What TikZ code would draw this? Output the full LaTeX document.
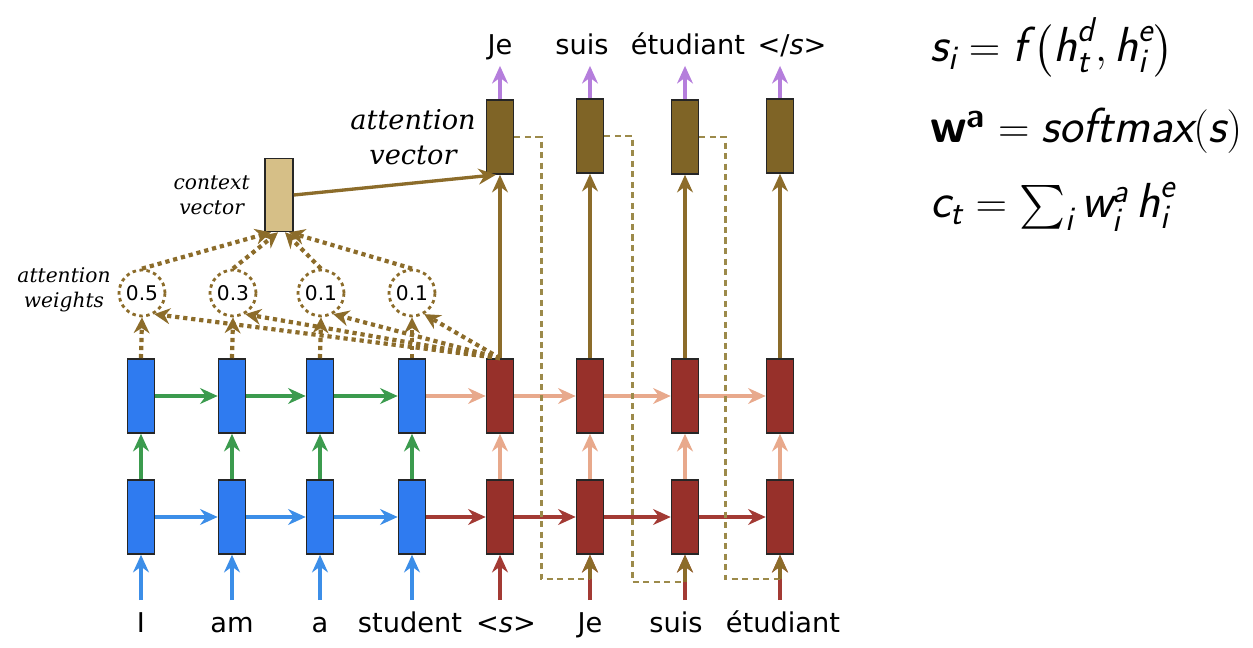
\documentclass[tikz,border=0pt]{standalone}
\usepackage{amsmath}
\usepackage{fontspec}
\usetikzlibrary{arrows.meta,calc}
\newfontfamily\wordfont{DejaVu Sans}
\newfontfamily\notefont{DejaVu Serif}
\newcommand{\sv}[1]{\text{\sffamily\itshape #1}}
\newcommand{\svb}[1]{\text{\sffamily\bfseries #1}}
\definecolor{encblue}{HTML}{2F7BF0}
\definecolor{inblue}{HTML}{3C8EE8}
\definecolor{encgreen}{HTML}{3B9B4E}
\definecolor{decred}{HTML}{97302A}
\definecolor{redarrow}{HTML}{A33A34}
\definecolor{salmon}{HTML}{E8A98C}
\definecolor{attbrown}{HTML}{7F6426}
\definecolor{brownarrow}{HTML}{8C6C2A}
\definecolor{ctxtan}{HTML}{D6BF87}
\definecolor{lavender}{HTML}{B57EDC}
\definecolor{feedbrown}{HTML}{9C8A4A}
\tikzset{
  cell/.style={draw=black!85, line width=0.9pt, minimum width=0.54cm, minimum height=1.48cm, inner sep=0pt},
  enccell/.style={cell, fill=encblue},
  deccell/.style={cell, fill=decred},
  attcell/.style={cell, fill=attbrown},
  ctxcell/.style={cell, fill=ctxtan, minimum width=0.56cm, minimum height=1.46cm},
  link/.style={line width=2.2pt, -{Stealth[length=10pt,width=9pt]}},
  weight/.style={circle, draw=brownarrow, line width=1.6pt, dash pattern=on 2pt off 2pt,
    minimum size=0.92cm, inner sep=0pt, font=\wordfont\fontsize{11.5}{13}\selectfont},
  attline/.style={brownarrow, line width=2.4pt, dash pattern=on 2.4pt off 2.2pt, -{Stealth[length=9pt,width=9pt]}},
  feedline/.style={feedbrown, line width=1.5pt, dash pattern=on 3.5pt off 2.5pt},
  word/.style={font=\wordfont\fontsize{15.5}{18}\selectfont, inner sep=0pt, anchor=base, text height=14pt, text depth=3pt},
  note/.style={font=\notefont\itshape, align=center, inner sep=0pt},
  eq/.style={font=\fontsize{28}{32}\selectfont, anchor=base west, inner sep=0pt}
}
\begin{document}
\begin{tikzpicture}[x=0.02cm, y=-0.02cm]
  \useasboundingbox (0,0) rectangle (1253,648);

  \node[enccell] (e1b) at (141,517) {};
  \node[enccell] (e2b) at (232,517) {};
  \node[enccell] (e3b) at (320,517) {};
  \node[enccell] (e4b) at (412,517) {};
  \node[enccell] (e1t) at (141,396) {};
  \node[enccell] (e2t) at (232,396) {};
  \node[enccell] (e3t) at (320,396) {};
  \node[enccell] (e4t) at (412,396) {};
  \node[deccell] (d1b) at (500,517) {};
  \node[deccell] (d2b) at (590,517) {};
  \node[deccell] (d3b) at (685,517) {};
  \node[deccell] (d4b) at (780,517) {};
  \node[deccell] (d1t) at (500,396) {};
  \node[deccell] (d2t) at (590,396) {};
  \node[deccell] (d3t) at (685,396) {};
  \node[deccell] (d4t) at (780,396) {};
  \node[attcell] (a1) at (500,137) {};
  \node[attcell] (a2) at (590,136) {};
  \node[attcell] (a3) at (685,137) {};
  \node[attcell] (a4) at (780,136) {};
  \node[ctxcell] (ctx) at (279,195) {};

  \node[weight] (w1) at (142,293) {0.5};
  \node[weight] (w2) at (233,293) {0.3};
  \node[weight] (w3) at (321,293) {0.1};
  \node[weight] (w4) at (412,293) {0.1};

  \node[word] (in1) at (141,632) {I};
  \node[word] (in2) at (232,632) {am};
  \node[word] (in3) at (320,632) {a};
  \node[word] (in4) at (410,632) {student};
  \node[word] (in5) at (506,632) {<\textit{s}>};
  \node[word] (in6) at (590,632) {Je};
  \node[word] (in7) at (676,632) {suis};
  \node[word] (in8) at (783,632) {étudiant};
  \node[word] (out1) at (500,55) {Je};
  \node[word] (out2) at (582,55) {suis};
  \node[word] (out3) at (688,55) {étudiant};
  \node[word] (out4) at (792,55) {</\textit{s}>};

  \node[note, font=\notefont\itshape\fontsize{15.5}{20}\selectfont] (attlabel) at (413,137) {attention\\vector};
  \node[note, font=\notefont\itshape\fontsize{11.5}{14}\selectfont, anchor=east] (ctxlabel) at (250,195) {context\\vector};
  \node[note, font=\notefont\itshape\fontsize{11.5}{14.5}\selectfont] (wlabel) at (64,290) {attention\\weights};

  \node[eq] (eq1) at (930,62) {$\sv{s}_{\sv{i}} = \sv{f}\,\bigl(\sv{h}^{\sv{d}}_{\sv{t}}, \sv{h}^{\sv{e}}_{\sv{i}}\bigr)$};
  \node[eq] (eq2) at (930,143) {$\svb{w}^{\svb{a}} = \sv{softmax}(\sv{s})$};
  \node[eq] (eq3) at (930,218) {$\sv{c}_{\sv{t}} = \sum_{\sv{i}} \sv{w}^{\sv{a}}_{\sv{i}}\,\sv{h}^{\sv{e}}_{\sv{i}}$};

  \draw[link, inblue, shorten <=4pt] (in1.north) -- (e1b.south);
  \draw[link, inblue, shorten <=4pt] (in2.north) -- (e2b.south);
  \draw[link, inblue, shorten <=4pt] (in3.north) -- (e3b.south);
  \draw[link, inblue, shorten <=4pt] (in4.north -| e4b.south) -- (e4b.south);
  \draw[link, redarrow, shorten <=4pt] (in5.north -| d1b.south) -- (d1b.south);
  \draw[link, redarrow, shorten <=4pt] (in6.north) -- (d2b.south);
  \draw[link, redarrow, shorten <=4pt] (in7.north -| d3b.south) -- (d3b.south);
  \draw[link, redarrow, shorten <=4pt] (in8.north -| d4b.south) -- (d4b.south);

  \draw[link, inblue] (e1b.east) -- (e2b.west);
  \draw[link, inblue] (e2b.east) -- (e3b.west);
  \draw[link, inblue] (e3b.east) -- (e4b.west);
  \draw[link, redarrow] (e4b.east) -- (d1b.west);
  \draw[link, redarrow] (d1b.east) -- (d2b.west);
  \draw[link, redarrow] (d2b.east) -- (d3b.west);
  \draw[link, redarrow] (d3b.east) -- (d4b.west);
  \draw[link, encgreen] (e1t.east) -- (e2t.west);
  \draw[link, encgreen] (e2t.east) -- (e3t.west);
  \draw[link, encgreen] (e3t.east) -- (e4t.west);
  \draw[link, salmon] (e4t.east) -- (d1t.west);
  \draw[link, salmon] (d1t.east) -- (d2t.west);
  \draw[link, salmon] (d2t.east) -- (d3t.west);
  \draw[link, salmon] (d3t.east) -- (d4t.west);

  \draw[link, encgreen] (e1b.north) -- (e1t.south);
  \draw[link, encgreen] (e2b.north) -- (e2t.south);
  \draw[link, encgreen] (e3b.north) -- (e3t.south);
  \draw[link, encgreen] (e4b.north) -- (e4t.south);
  \draw[link, salmon] (d1b.north) -- (d1t.south);
  \draw[link, salmon] (d2b.north) -- (d2t.south);
  \draw[link, salmon] (d3b.north) -- (d3t.south);
  \draw[link, salmon] (d4b.north) -- (d4t.south);

  \draw[link, brownarrow] (d1t.north) -- (a1.south);
  \draw[link, brownarrow] (d2t.north) -- (a2.south);
  \draw[link, brownarrow] (d3t.north) -- (a3.south);
  \draw[link, brownarrow] (d4t.north) -- (a4.south);
  \draw[link, brownarrow, line width=1.9pt] (ctx.east) -- ($(a1.south)+(-4,0)$);
  \draw[link, lavender, shorten >=3pt] (a1.north) -- (out1.south);
  \draw[link, lavender, shorten >=3pt] (a2.north) -- (out2.south -| a2.north);
  \draw[link, lavender, shorten >=3pt] (a3.north) -- (out3.south -| a3.north);
  \draw[link, lavender, shorten >=3pt] (a4.north) -- (out4.south -| a4.north);

  \draw[attline] (e1t.north) -- (w1.south);
  \draw[attline] (e2t.north) -- (w2.south);
  \draw[attline] (e3t.north) -- (w3.south);
  \draw[attline] (e4t.north) -- (w4.south);
  \draw[attline] (d1t.north) -- (w1.-60);
  \draw[attline] (d1t.north) -- (w2.-60);
  \draw[attline] (d1t.north) -- (w3.-60);
  \draw[attline] (d1t.north) -- (w4.-60);
  \draw[attline] (w1.north) -- ($(ctx.south)+(-8,0)$);
  \draw[attline] (w2.north) -- ($(ctx.south)+(-1,0)$);
  \draw[attline] (w3.north) -- ($(ctx.south)+(6,0)$);
  \draw[attline] (w4.north) -- ($(ctx.south)+(10,0)$);

  \coordinate (j2) at (590,579);
  \coordinate (j3) at (685,582);
  \coordinate (j4) at (780,579);
  \draw[feedline] (a1.east) -- ++(27,0) |- (j2);
  \draw[feedline] (a2.east) -- ++(28,0) |- (j3);
  \draw[feedline] (a3.east) -- ++(26,0) |- (j4);
  \draw[link, brownarrow] (j2) -- (d2b.south);
  \draw[link, brownarrow] (j3) -- (d3b.south);
  \draw[link, brownarrow] (j4) -- (d4b.south);
\end{tikzpicture}
\end{document}
